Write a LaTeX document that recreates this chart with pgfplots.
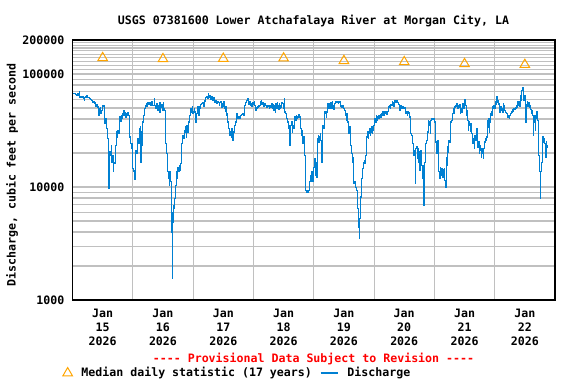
\documentclass[border=0pt]{standalone}
\usepackage{pgfplots}
\pgfplotsset{compat=1.18}
\usepackage{fontspec}
\setmainfont{DejaVu Sans Mono}[Ligatures=TeXOff]
\definecolor{usgsblue}{RGB}{0,128,210}
\definecolor{medorange}{RGB}{255,165,0}
\definecolor{gridgray}{RGB}{192,192,192}
\newcommand{\lbl}{\fontsize{11.6bp}{14bp}\selectfont\bfseries}

\begin{document}
\begin{tikzpicture}[x=1bp,y=1bp]
\path[use as bounding box] (0,0) rectangle (576,384);

\node[font=\lbl] at (313.5,363) {USGS 07381600 Lower Atchafalaya River at Morgan City, LA};
\node[font=\lbl, rotate=90] at (12,209) {Discharge, cubic feet per second};
\node[font=\lbl, text=red] at (313.5,25.5) {---- Provisional Data Subject to Revision ----};

\begin{axis}[
    at={(72.5bp,84bp)}, anchor=south west,
    scale only axis, width=482.5bp, height=260bp,
    ymode=log,
    xmin=0, xmax=8, ymin=1000, ymax=200000,
    axis line style={line width=1.5bp, black},
    xtick={0.5,1.5,2.5,3.5,4.5,5.5,6.5,7.5},
    xticklabels={{Jan\\15\\2026},{Jan\\16\\2026},{Jan\\17\\2026},{Jan\\18\\2026},
                 {Jan\\19\\2026},{Jan\\20\\2026},{Jan\\21\\2026},{Jan\\22\\2026}},
    minor xtick={1,2,3,4,5,6,7},
    xmajorgrids=false, xminorgrids=true,
    ytick={1000,10000,100000,200000},
    yticklabels={1000,10000,100000,200000},
    minor ytick={2000,3000,4000,5000,6000,7000,8000,9000,
                 20000,30000,40000,50000,60000,70000,80000,90000,
                 110000,120000,130000,140000,150000,160000,170000,180000,190000},
    ymajorgrids=true, yminorgrids=true,
    grid style={line width=1.1bp, gridgray},
    minor grid style={line width=1.1bp, gridgray},
    major tick length=0pt, minor tick length=0pt,
    tick style={draw=none},
    xticklabel style={font=\lbl, align=center, anchor=north, inner sep=0pt, yshift=-9bp},
    yticklabel style={font=\lbl, anchor=east, inner sep=0pt, xshift=-8bp},
    legend columns=2,
    legend cell align=left,
    legend style={at={(axis description cs:-0.0203,-0.2808)}, anchor=west,
        draw=none, fill=none, inner sep=0pt, font=\lbl, nodes={inner sep=0pt},
        /tikz/every odd column/.style={column sep=9bp},
        /tikz/every even column/.style={column sep=8bp}},
]

% median daily statistic
\addplot[only marks, mark=triangle, mark size=5.5bp, color=medorange,
    mark options={line width=1bp}] coordinates {
    (0.5,139000) (1.5,136000) (2.5,137000) (3.5,138000)
    (4.5,131000) (5.5,128000) (6.5,123000) (7.5,121000)
};
\addlegendentry{Median daily statistic (17 years)}

% discharge
\addplot[const plot, no marks, color=usgsblue, line width=1.1bp,
    legend image post style={line width=1.5bp}] coordinates {
(0.000,67000) (0.017,67000) (0.044,65700) (0.066,64800) (0.083,66500) (0.099,64000) (0.110,69300) (0.122,62600)
(0.138,63500) (0.155,61400) (0.166,62600) (0.182,60500) (0.193,58500) (0.204,61400) (0.221,62600) (0.232,64800)
(0.249,61400) (0.265,61800) (0.287,60500) (0.304,59700) (0.320,58500) (0.332,55800) (0.348,56600) (0.365,54700)
(0.376,55800) (0.387,52100) (0.398,53600) (0.414,51100) (0.425,50000) (0.431,43100) (0.442,49400) (0.459,50000)
(0.470,44600) (0.481,47700) (0.492,51100) (0.503,52800) (0.514,52100) (0.525,43100) (0.536,36300) (0.547,40200)
(0.558,37600) (0.569,32800) (0.580,30700) (0.586,26800) (0.597,20400) (0.602,9650) (0.608,13600) (0.619,20400)
(0.630,19000) (0.641,23400) (0.652,16600) (0.663,19000) (0.674,13600) (0.685,16600) (0.696,16100) (0.707,19700)
(0.718,23400) (0.729,30700) (0.740,27700) (0.751,31700) (0.762,29600) (0.773,37600) (0.785,41600) (0.796,38100)
(0.807,43100) (0.818,40200) (0.829,44600) (0.840,43100) (0.851,47700) (0.862,43100) (0.873,45500) (0.884,41600)
(0.895,44600) (0.906,43100) (0.917,45500) (0.928,43100) (0.939,28600) (0.950,27700) (0.961,24200) (0.972,21800)
(0.983,24200) (0.995,14500) (1.006,13800) (1.017,14000) (1.028,11600) (1.039,14500) (1.050,21100) (1.061,19700)
(1.072,23400) (1.083,26800) (1.094,24200) (1.105,32800) (1.116,25900) (1.127,34000) (1.133,16600) (1.144,30700)
(1.155,23400) (1.166,37600) (1.177,43100) (1.188,46100) (1.199,49400) (1.210,52100) (1.221,54700) (1.232,52100)
(1.249,55800) (1.265,53600) (1.282,55800) (1.298,52800) (1.315,57300) (1.326,52800)
(1.356,60500) (1.367,52800) (1.383,49400) (1.394,54700) (1.405,47700) (1.416,52800) (1.427,47700) (1.438,55800)
(1.450,46100) (1.461,51100) (1.477,53600) (1.488,47700) (1.505,55800) (1.516,49400) (1.532,47700) (1.538,29600)
(1.549,24200) (1.560,19700) (1.571,19000) (1.582,13600) (1.588,11800) (1.593,13100) (1.604,10300) (1.615,13600)
(1.626,11100) (1.637,9650) (1.643,4000) (1.648,4270) (1.654,6000) (1.659,1540) (1.665,4900) (1.676,6870)
(1.687,6420) (1.698,7870) (1.709,10300) (1.720,11100) (1.726,13600) (1.737,11800) (1.748,15000) (1.759,13600)
(1.770,15500) (1.781,14000) (1.792,16100) (1.803,17800) (1.809,24200) (1.820,25900) (1.831,28600) (1.842,26800)
(1.853,31700) (1.864,30700) (1.875,34000) (1.886,27700) (1.897,35100) (1.908,30700) (1.919,36300) (1.930,37600)
(1.941,43100) (1.952,44600) (1.963,49400) (1.974,46100) (1.985,51100) (1.996,44600) (2.008,46100) (2.019,49400)
(2.030,46100) (2.041,37600) (2.052,43100) (2.063,44600) (2.074,51100) (2.085,47700) (2.096,43100) (2.107,51100)
(2.118,50000) (2.129,53600) (2.140,54700) (2.157,55800) (2.168,52100) (2.184,58500) (2.201,56600) (2.212,61400)
(2.223,62600) (2.240,60500) (2.251,67000) (2.262,61400) (2.278,64000) (2.289,59700) (2.306,62600) (2.322,58500)
(2.334,61400) (2.350,59700) (2.361,55800) (2.378,58500) (2.389,54700) (2.405,57300) (2.422,55800) (2.433,52800)
(2.444,55800) (2.461,56600) (2.472,51100) (2.483,54700) (2.499,52100) (2.510,57300) (2.521,49400) (2.532,46700)
(2.543,51100) (2.555,43100) (2.566,44600) (2.577,37600) (2.588,32800) (2.599,29600) (2.610,28600) (2.621,30700)
(2.632,27700) (2.643,32800) (2.654,25900) (2.665,30700) (2.682,35100)
(2.699,37600) (2.715,43100) (2.726,44600) (2.737,40200) (2.754,41600) (2.770,40200) (2.787,43100) (2.804,43700)
(2.820,44600) (2.837,43100) (2.848,50000) (2.859,52800) (2.875,55800) (2.892,58500) (2.903,60500) (2.914,53600)
(2.931,56600) (2.947,52800) (2.958,54700) (2.969,52100) (2.986,55800) (3.002,53600) (3.014,57300) (3.025,52800)
(3.036,47700) (3.047,50000) (3.058,49400) (3.069,51100) (3.085,52100) (3.102,52800) (3.118,56600) (3.130,58500)
(3.141,53600) (3.157,55800) (3.174,52100) (3.190,54700) (3.207,52800) (3.223,51100) (3.235,52800) (3.251,52100)
(3.262,50000) (3.273,52800) (3.290,51100) (3.306,54700) (3.317,49400) (3.328,53600) (3.339,47700) (3.351,52100)
(3.362,46100) (3.373,54700) (3.384,50000) (3.395,55800) (3.406,52100) (3.417,48700) (3.428,54700) (3.439,50000)
(3.450,52800) (3.461,51100) (3.472,55800) (3.483,54700) (3.494,52100) (3.505,49400) (3.516,60500) (3.522,46100)
(3.533,44600) (3.544,43100) (3.555,40200) (3.566,37600) (3.577,32800) (3.588,35100) (3.599,23400) (3.610,31700)
(3.621,35100) (3.632,37600) (3.643,30700) (3.654,35100) (3.665,32800) (3.677,35100) (3.688,41600) (3.699,38900)
(3.710,43100) (3.721,40200) (3.732,41600) (3.743,43100) (3.754,43700) (3.765,41600) (3.776,35100) (3.787,32800)
(3.798,28600) (3.809,31700) (3.820,24200) (3.831,27700) (3.842,21800) (3.853,19000) (3.864,15500) (3.870,9330)
(3.881,9020) (3.892,9330) (3.903,8900) (3.914,9330) (3.925,10300) (3.936,11100) (3.947,12700) (3.958,11100)
(3.969,13600) (3.980,11100) (3.991,11100) (4.002,15000) (4.014,17800) (4.025,13600)
(4.036,12700) (4.047,12200) (4.053,16600) (4.064,26800) (4.075,28600) (4.086,25000) (4.097,27700) (4.108,29600)
(4.119,25900) (4.130,16600) (4.141,31700) (4.152,35100) (4.163,32800) (4.174,40200) (4.185,46100) (4.196,44600)
(4.207,41600) (4.218,46100) (4.229,54700) (4.240,49400) (4.252,52800) (4.263,54700) (4.274,50000) (4.285,55800)
(4.296,49400) (4.307,56600) (4.318,52100) (4.329,48700) (4.340,52800) (4.351,54700) (4.362,56600) (4.373,57300)
(4.384,55800) (4.395,57300) (4.406,54700) (4.417,55800) (4.428,56600) (4.439,52100) (4.450,52800) (4.467,51100)
(4.484,52100) (4.500,49400) (4.517,47700) (4.528,43100) (4.539,38900) (4.550,44600) (4.561,37600) (4.572,35100)
(4.583,29600) (4.594,34000) (4.605,26800) (4.616,23400) (4.627,19700) (4.638,16600) (4.649,18400) (4.660,13600)
(4.666,10700) (4.677,11100) (4.688,10300) (4.699,9950) (4.710,9330) (4.721,8150) (4.732,6420) (4.738,5240)
(4.743,4420) (4.754,3490) (4.760,5240) (4.771,6870) (4.782,8150) (4.787,9950) (4.793,11800) (4.804,12700)
(4.815,14500) (4.826,16600) (4.837,17200) (4.848,16100) (4.859,19000) (4.870,20400) (4.881,27700) (4.892,30700)
(4.903,26800) (4.915,29600) (4.926,32800) (4.937,28600) (4.948,30700) (4.959,34000) (4.970,29600) (4.981,31700)
(4.992,35100) (5.003,37600) (5.014,40200) (5.025,37600) (5.036,43100) (5.047,38900) (5.058,41600) (5.069,43100)
(5.080,40200) (5.091,43100) (5.102,43700) (5.113,41600) (5.124,44600) (5.136,43100) (5.147,46100) (5.158,43100)
(5.169,45500) (5.180,46700) (5.191,44600) (5.202,46100) (5.213,43700) (5.224,46700) (5.235,49400) (5.246,51100)
(5.257,52800) (5.268,49400) (5.279,53600) (5.290,52800) (5.301,56600) (5.312,55800) (5.323,52100) (5.334,57300)
(5.345,58500) (5.356,55800) (5.367,58500)
(5.384,55800) (5.400,53600) (5.417,51100) (5.428,47700) (5.439,52100) (5.450,49400) (5.466,51100) (5.483,49400)
(5.500,50000) (5.516,47700) (5.527,44600) (5.538,46100) (5.549,43100) (5.560,46700) (5.571,44600) (5.582,45500)
(5.594,41600) (5.605,29600) (5.616,29000) (5.627,28600) (5.638,24200) (5.649,20400) (5.660,19000) (5.671,21100)
(5.682,10700) (5.693,21800) (5.704,22600) (5.715,17800) (5.726,21800) (5.737,16600) (5.748,20400) (5.759,14000)
(5.770,21100) (5.781,18400) (5.792,15500) (5.803,11800) (5.815,15500) (5.820,6870) (5.831,16100) (5.842,16600)
(5.853,24200) (5.864,25000) (5.875,25900) (5.886,30700) (5.897,38900) (5.908,35100) (5.919,37600) (5.931,29600)
(5.942,38900) (5.953,40200) (5.964,39700) (5.975,40200) (5.986,39700) (5.997,40200) (6.008,37600) (6.019,25000)
(6.030,23400) (6.041,19700) (6.052,25900) (6.063,14500) (6.074,13600) (6.085,11800) (6.096,15000) (6.107,12700)
(6.118,14700) (6.129,14000) (6.140,12200) (6.152,14300) (6.163,14500) (6.174,11400) (6.185,9950) (6.196,18400)
(6.207,15500) (6.218,22600) (6.229,20400) (6.240,25900) (6.251,25000) (6.262,35100) (6.273,37600) (6.284,38900)
(6.295,43100) (6.306,44600) (6.317,49400) (6.328,44600) (6.339,51100) (6.350,52800) (6.362,52100) (6.373,54700)
(6.384,50000) (6.395,52800) (6.406,51100) (6.417,53600) (6.428,44600) (6.439,49400) (6.450,46100) (6.461,52100)
(6.472,54700) (6.483,49400) (6.494,52800) (6.505,59700) (6.516,52800) (6.527,43100) (6.538,47700) (6.549,38900)
(6.560,31700) (6.571,37600) (6.583,35100) (6.594,31100) (6.605,36300) (6.616,29600) (6.627,27700) (6.638,24200)
(6.649,26800) (6.660,21800) (6.671,28600) (6.682,25900) (6.693,30700) (6.704,32800)
(6.721,22600) (6.732,25000) (6.743,19700) (6.754,23400) (6.765,21100) (6.776,18400) (6.787,21800) (6.798,19700)
(6.809,17800) (6.820,21800) (6.832,25000) (6.843,26800) (6.854,25900) (6.865,27700) (6.876,38900) (6.887,34000)
(6.898,40200) (6.909,30700) (6.920,37600) (6.931,44600) (6.942,46100) (6.953,43100) (6.964,51100) (6.975,49400)
(6.986,52100) (6.997,50000) (7.008,56600) (7.019,53600) (7.030,62600) (7.042,55800) (7.053,58500) (7.064,53600)
(7.075,54700) (7.086,46100) (7.097,51100) (7.108,47700) (7.119,49400) (7.130,45500) (7.141,54700) (7.152,52800)
(7.163,47700) (7.174,46700) (7.185,45500) (7.196,44600) (7.207,43700) (7.218,41600) (7.229,43100) (7.240,40800)
(7.251,43100) (7.263,44600) (7.274,45500) (7.285,46100) (7.296,48700) (7.307,46700) (7.318,49400) (7.329,48700)
(7.340,50000) (7.351,49400) (7.362,52800) (7.373,51100) (7.384,56600) (7.395,52800) (7.406,57300) (7.417,52100)
(7.428,64800) (7.439,58500) (7.450,71700) (7.461,75200) (7.472,62600) (7.484,58500) (7.495,64800) (7.506,55800)
(7.517,37600) (7.528,53600) (7.539,56600) (7.550,52100) (7.561,55800) (7.572,51100) (7.583,52800) (7.594,48700)
(7.605,44600) (7.616,47700) (7.627,43100) (7.638,28600) (7.649,37600) (7.660,43100) (7.671,31700) (7.682,40200)
(7.693,46100) (7.705,43100) (7.716,38900) (7.727,19000) (7.738,15500) (7.749,13600) (7.754,10300) (7.760,7870)
(7.765,13600) (7.776,16600) (7.787,21800) (7.798,27700) (7.809,25000) (7.820,26800) (7.831,24200) (7.842,18400)
(7.853,25000) (7.864,22600) (7.870,23400)
};
\addlegendentry{Discharge}
\end{axis}
\end{tikzpicture}
\end{document}
